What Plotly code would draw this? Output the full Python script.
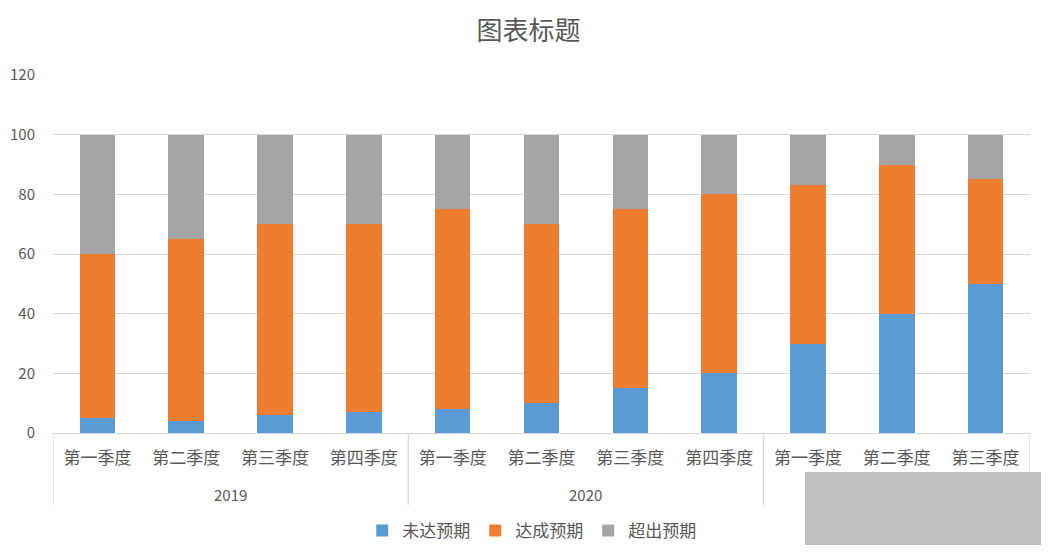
import plotly.graph_objects as go

years = ["2019"] * 4 + ["2020"] * 4 + ["2021"] * 3
quarters = ["第一季度", "第二季度", "第三季度", "第四季度"] * 2 + ["第一季度", "第二季度", "第三季度"]
below = [5, 4, 6, 7, 8, 10, 15, 20, 30, 40, 50]
meet = [55, 61, 64, 63, 67, 60, 60, 60, 53, 50, 35]
exceed = [40, 35, 30, 30, 25, 30, 25, 20, 17, 10, 15]
series = [("未达预期", below, "#5B9BD5"), ("达成预期", meet, "#ED7D31"), ("超出预期", exceed, "#A5A5A5")]

font = "Noto Sans CJK SC"
idx = list(range(len(quarters)))
fig = go.Figure()
for name, vals, col in series:
    fig.add_trace(go.Bar(x=idx, y=vals, name=name, marker=dict(color=col, line=dict(width=0))))

H_PLOT = 358.0
def py(px_below):
    return -px_below / H_PLOT

# grey cover box (in plot-relative paper coords)
box_x0, box_x1 = (805 - 53) / 977, (1045 - 53) / 977

# year group labels and dividers
groups = []
for i, y in enumerate(years):
    if not groups or groups[-1][0] != y:
        groups.append([y, i, i])
    else:
        groups[-1][2] = i
n = len(idx)
for y, a, b in groups:
    xc = (a + b) / 2
    if box_x0 <= (xc + 0.5) / n <= box_x1:
        continue  # label hidden by the grey box
    fig.add_annotation(x=xc, y=py(61), xref="x", yref="paper", text=y, showarrow=False,
                       font=dict(size=15, color="#595959", family=font), yanchor="middle")
bounds = [groups[0][1] - 0.5] + [g[2] + 0.5 for g in groups]
for xb in bounds:
    fig.add_shape(type="line", xref="x", yref="paper", x0=xb, x1=xb, y0=0, y1=py(72),
                  line=dict(color="#D9D9D9", width=1.3))

W, H = 1041, 550  # page body adds an 8px offset
fig.update_layout(
    barmode="stack",
    bargap=0.6,
    width=W, height=H,
    margin=dict(l=45, r=19, t=67, b=125, autoexpand=False),
    paper_bgcolor="white", plot_bgcolor="white",
    font=dict(family=font, color="#595959", size=16),
    title=dict(text="图表标题", x=0.5, xanchor="center", xref="container", y=1 - 23 / H, yref="container",
               yanchor="middle", font=dict(size=26, color="#595959", family=font)),
    legend=dict(orientation="h", x=0.49, xanchor="center", y=py(98), yanchor="middle",
                font=dict(size=17, color="#595959"), traceorder="normal", itemwidth=30),
    showlegend=True,
)
fig.update_yaxes(range=[0, 120], dtick=20, showgrid=True, gridcolor="#D9D9D9", gridwidth=1.3,
                 zeroline=False, showline=False, tickfont=dict(size=15, color="#595959"),
                 ticks="", ticklabelstandoff=17, automargin=False)
fig.update_xaxes(range=[-0.5, n - 0.5], tickvals=idx, ticktext=quarters, showline=True,
                 linecolor="#D9D9D9", linewidth=1.3, tickfont=dict(size=17, color="#595959"),
                 ticks="", ticklabelstandoff=9, automargin=False, showgrid=False)
fig.add_shape(type="rect", xref="paper", yref="paper", x0=box_x0, x1=box_x1,
              y0=py(112), y1=py(39), fillcolor="#BFBFBF", line=dict(width=0), layer="above")
fig.write_html("out.html")
